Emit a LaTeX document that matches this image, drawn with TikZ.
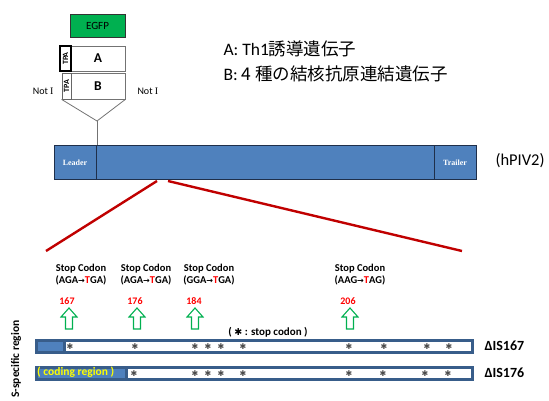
\documentclass[tikz,border=0pt]{standalone}
\usepackage{fontspec}
\setmainfont{Carlito}
\newfontfamily\cjk{Noto Sans CJK JP}
\newfontfamily\djv{DejaVu Sans}
\newfontfamily\serif{Liberation Serif}
\usetikzlibrary{calc}
\definecolor{barblue}{HTML}{4F81BD}
\definecolor{barline}{HTML}{1F2F4A}
\definecolor{frameblue}{HTML}{385D8A}
\definecolor{egfpgreen}{HTML}{00B050}
\definecolor{darkred}{HTML}{C00000}
\definecolor{arrowgreen}{HTML}{00B050}
\definecolor{codingyellow}{HTML}{FFFF00}
\definecolor{numred}{HTML}{FF0000}
\begin{document}
\begin{tikzpicture}[x=1pt,y=-1pt,
  fs/.style={font=\fontsize{#1}{#1}\selectfont},
  gbox/.style={draw=black!55, line width=0.8pt, inner sep=0pt},
  tpabox/.style={draw=black, line width=0.8pt, inner sep=0pt, rotate=90, font=\bfseries\fontsize{8}{8}\selectfont},
  barseg/.style={draw=barline, line width=1pt, fill=barblue, inner sep=0pt, minimum height=34pt, text=white, font=\serif\bfseries\fontsize{8}{9}\selectfont},
  zoomline/.style={draw=darkred, line width=2.4pt},
  conn/.style={draw=black!55, line width=0.8pt},
  stoplab/.style={align=center, font=\bfseries\fontsize{10.5}{12}\selectfont},
  posnum/.style={text=numred, font=\bfseries\fontsize{10}{11}\selectfont},
  star/.style={inner sep=0pt, text=black!70, font=\djv\fontsize{8}{8}\selectfont},
  barlab/.style={anchor=west, font=\bfseries\fontsize{14}{15}\selectfont},
  uparrow/.pic={\draw[arrowgreen, line width=1.1pt, fill=white, line join=miter]
     (-3.5,0) -- (-3.5,-12) -- (-8,-12) -- (0,-21) -- (8,-12) -- (3.5,-12) -- (3.5,0) -- cycle;}
]
\useasboundingbox (0,0) rectangle (549,401);

% ---- construct at top-left
\node[draw=black!80, line width=0.8pt, fill=egfpgreen, minimum width=55pt, minimum height=23pt, inner sep=0pt, fs=11] (egfp) at (97.5,25.5) {EGFP};
\node[gbox, minimum width=54pt, minimum height=25pt, font=\bfseries\fontsize{13.5}{14}\selectfont] (A) at (98,58.5) {A};
\node[tpabox, minimum width=25pt, minimum height=11pt, line width=1.4pt] (Atpa) at (65.5,58.5) {TPA};
\node[gbox, minimum width=54pt, minimum height=26pt, font=\bfseries\fontsize{13.5}{14}\selectfont] (B) at (98,86) {B};
\node[tpabox, minimum width=26pt, minimum height=9pt, draw=black!60] (Btpa) at (66.5,86) {TPA};
\node[fs=10, anchor=east] (notl) at (57,91) {Not {\serif I}};
\node[fs=10, anchor=west] (notr) at (134,91) {Not {\serif I}};

% ---- legend
\node[anchor=west, fs=17.5] (la) at (220,49) {A: Th1{\cjk 誘導遺伝子}};
\node[anchor=west, fs=17.5] (lb) at (220,74) {B: {\cjk 4}\hspace{4pt}{\cjk 種の結核抗原連結遺伝子}};

% ---- hPIV2 genome bar
\node[barseg, minimum width=42pt] (leader) at (75,163) {Leader};
\node[barseg, minimum width=338pt] (mid) at (265,163) {};
\node[barseg, minimum width=42pt] (trailer) at (455,163) {Trailer};
\node[fs=16.5, anchor=west] (hpiv) at (492,161) {(hPIV2)};

% ---- insertion connector
\coordinate (j) at (97,121);
\draw[conn] (Btpa.north west) -- (j);
\draw[conn] (B.south east) -- (j);
\draw[conn] (j) -- (j |- mid.north);

% ---- zoom lines
\coordinate (z1) at (157,181);
\coordinate (z2) at (168,181);
\coordinate (p1) at (46,251);
\coordinate (p2) at (462,251);
\draw[zoomline] (z1) -- (p1);
\draw[zoomline] (z2) -- (p2);

% ---- stop codon labels
\node[stoplab] (s1) at (81,275) {Stop Codon\\(AGA{\djv\fontsize{8}{9}\selectfont →}{\color{numred}T}GA)};
\node[stoplab] (s2) at (146,275) {Stop Codon\\(AGA{\djv\fontsize{8}{9}\selectfont →}{\color{numred}T}GA)};
\node[stoplab] (s3) at (209,275) {Stop Codon\\(GGA{\djv\fontsize{8}{9}\selectfont →}{\color{numred}T}GA)};
\node[stoplab] (s4) at (360,275) {Stop Codon\\(AAG{\djv\fontsize{8}{9}\selectfont →}{\color{numred}T}AG)};

\node[posnum] (n1) at (67,301) {167};
\node[posnum] (n2) at (135,301) {176};
\node[posnum] (n3) at (194,301) {184};
\node[posnum] (n4) at (348,301) {206};

\pic at (69,329) {uparrow};
\pic at (137,329) {uparrow};
\pic at (195,329) {uparrow};
\pic at (350,329) {uparrow};

\node[font=\bfseries\fontsize{11}{11}\selectfont] (note) at (268,332) {( {\djv\fontsize{9.5}{9}\selectfont ✱} : stop codon )};

% ---- bottom bars
\node[fill=frameblue, minimum width=439pt, minimum height=15pt, inner sep=0pt] (bar1) at (254.5,346) {};
\fill[barblue] (38,342) rectangle (63,350.5);
\fill[white] (66,342) rectangle (471,350.5);
\node[fill=frameblue, minimum width=439pt, minimum height=15pt, inner sep=0pt] (bar2) at (254.5,373) {};
\fill[barblue] (38,369) rectangle (125,377.5);
\fill[white] (128,369) rectangle (471,377.5);
\node[text=codingyellow, font=\bfseries\fontsize{11.5}{11}\selectfont, anchor=west, inner sep=0pt] (coding) at (37,372.5) {( coding region )};

\foreach \x in {70,135,195,208,221,243,349,384,427,449}
  \node[star] at (\x,346.3) {✱};
\foreach \x in {134,195,208,221,243,349,383,425,448}
  \node[star] at (\x,373.3) {✱};

\node[barlab] (l1) at (481,346) {ΔIS167};
\node[barlab] (l2) at (481,373) {ΔIS176};

\node[rotate=90, font=\bfseries\fontsize{11.5}{12}\selectfont] (ss) at (16,359) {S-specific region};
\end{tikzpicture}
\end{document}
